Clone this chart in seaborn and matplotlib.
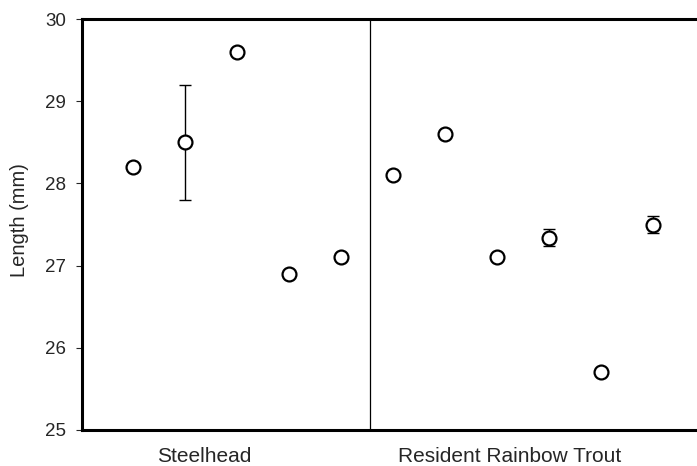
import matplotlib
matplotlib.use("Agg")
import matplotlib.pyplot as plt
import seaborn as sns
import numpy as np
import pandas as pd

groups = ["Steelhead", "Resident Rainbow Trout"]
steelhead_len = [28.2, 28.5, 29.6, 26.9, 27.1]
steelhead_err = [0.0, 0.7, 0.0, 0.0, 0.0]
resident_len = [28.1, 28.6, 27.1, 27.34, 25.7, 27.5]
resident_err = [0.0, 0.0, 0.0, 0.1, 0.0, 0.1]
yticks = [25, 26, 27, 28, 29, 30]

sns.set_style("ticks")
plt.rcParams['font.family'] = ['Liberation Sans', 'DejaVu Sans']

lengths = steelhead_len + resident_len
errs = steelhead_err + resident_err
grp = [groups[0]] * len(steelhead_len) + [groups[1]] * len(resident_len)
df = pd.DataFrame({"pos": np.arange(len(lengths)), "length": lengths, "err": errs, "group": grp})

fig = plt.figure(figsize=(6.97, 4.66), dpi=100)
ax = fig.add_axes([82/697, 1 - 430/466, 1 - 82/697 + 0.01, (430 - 19)/466])

sub = df[df["err"] > 0]
ax.errorbar(sub["pos"], sub["length"], yerr=sub["err"], fmt="none", ecolor="black",
            elinewidth=1.0, capsize=4, capthick=1.0, zorder=2)
sns.scatterplot(data=df, x="pos", y="length", ax=ax, marker="o", s=100,
                facecolor="white", edgecolor="black", linewidth=1.6, zorder=3, legend=False)

ax.axvline(4.55, color="black", lw=0.9, zorder=1)

ax.set_ylim(25, 30)
ax.set_xlim(-0.98, 10.98)
ax.set_yticks(yticks)
ax.set_yticklabels([str(t) for t in yticks], fontsize=13.5)
ax.set_xticks([])
ax.set_xlabel("")
ax.set_ylabel("")
fig.text(20/697, 1 - 220/466, "Length (mm)", rotation=90, ha="center", va="center", fontsize=14.5)
ax.tick_params(axis="y", direction="out", length=4.5, width=0.8, pad=7)

for s in ["left", "top", "bottom"]:
    ax.spines[s].set_linewidth(2.2)
    ax.spines[s].set_color("black")
ax.spines["right"].set_visible(False)

ax.text(1.38, -0.042, groups[0], transform=ax.get_xaxis_transform(), ha="center", va="top", fontsize=15)
ax.text(7.25, -0.042, groups[1], transform=ax.get_xaxis_transform(), ha="center", va="top", fontsize=15)

fig.savefig("out.png", dpi=100)
